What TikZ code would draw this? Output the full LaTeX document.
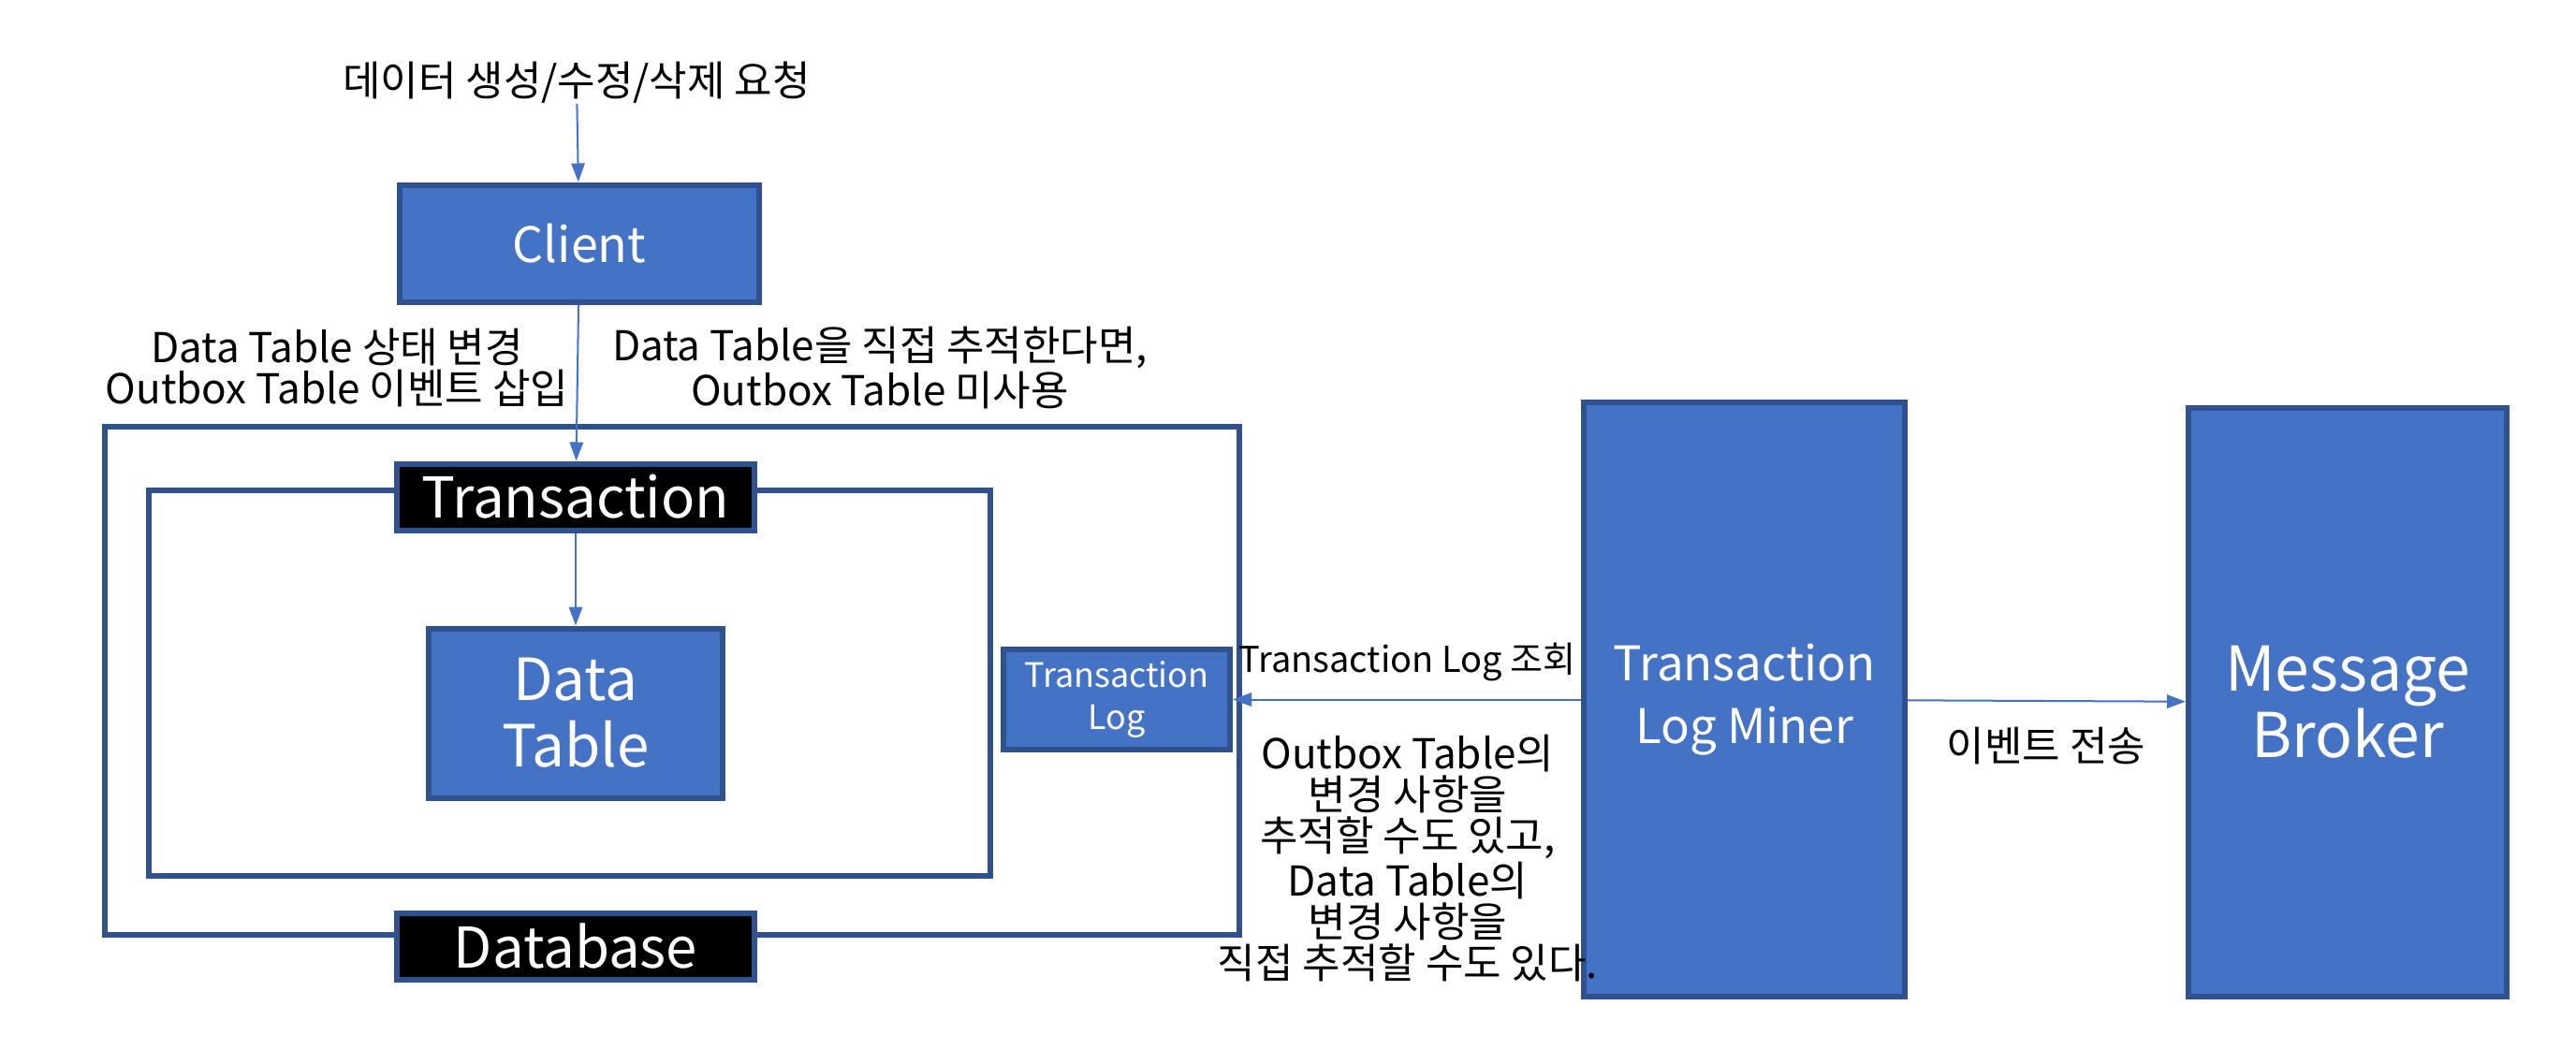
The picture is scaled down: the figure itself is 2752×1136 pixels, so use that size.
\documentclass[tikz,border=0pt]{standalone}
\usepackage{fontspec}
\setmainfont{Noto Sans CJK KR}
\usetikzlibrary{arrows.meta}
\definecolor{boxblue}{HTML}{4472C4}
\definecolor{edgeblue}{HTML}{2F528F}

\begin{document}
\begin{tikzpicture}[x=0.25pt, y=-0.25pt,
  blk/.style={draw=edgeblue, line width=1.5pt, fill=boxblue, text=white, align=center, inner sep=0pt},
  tag/.style={draw=edgeblue, line width=1.5pt, fill=black, text=white, inner sep=0pt,
    minimum width=95.5pt, minimum height=17.75pt, font=\fontsize{15}{15}\selectfont},
  frame/.style={draw=edgeblue, line width=1.4pt},
  flow/.style={draw=boxblue, line width=0.5pt, -{Triangle[length=5pt,width=3.6pt]}},
  lbl/.style={align=center, inner sep=0pt, font=\fontsize{11}{11}\selectfont}]
  \useasboundingbox (0,0) rectangle (2752,1136);
  % database and transaction frames
  \draw[frame] (112,456) rectangle (1324,999);
  \draw[frame] (159,524) rectangle (1058,936);
  \node[tag] (trans) at (615,531) {Transaction};
  \node[tag] (db) at (615,1011) {Database};
  % boxes
  \node[lbl] (req) at (616,88) {데이터 생성/수정/삭제 요청};
  \node[blk, minimum width=96pt, minimum height=31.25pt, font=\fontsize{13}{13}\selectfont]
    (client) at (619,260) {Client};
  \node[blk, minimum width=78.5pt, minimum height=45.25pt, font=\fontsize{15.5}{17.75}\selectfont]
    (data) at (615,762) {Data\\Table};
  \node[blk, minimum width=60.5pt, minimum height=26.75pt, font=\fontsize{9}{11.25}\selectfont]
    (txlog) at (1193,747.5) {Transaction\\Log};
  \node[blk, minimum width=85.75pt, minimum height=158.75pt, font=\fontsize{12.75}{16.75}\selectfont]
    (miner) at (1863.5,747.5) {Transaction\\Log Miner};
  \node[blk, minimum width=85pt, minimum height=157.25pt, font=\fontsize{16.5}{17.75}\selectfont]
    (broker) at (2508,750.5) {Message\\Broker};
  % arrows
  \draw[flow] (req) -- (client);
  \draw[flow] (client) -- (trans);
  \draw[flow] (trans) -- (data);
  \draw[flow] (miner) -- (txlog);
  \draw[flow] (miner) -- (broker);
  % labels
  \node[lbl] (upd) at (360,393) {Data Table 상태 변경\\Outbox Table 이벤트 삽입};
  \node[lbl] (direct) at (940,393) {Data Table을 직접 추적한다면,\\Outbox Table 미사용};
  \node[lbl, font=\fontsize{9.5}{11}\selectfont, anchor=east] (read) at (1684,708) {Transaction Log 조회};
  \node[lbl] (note) at (1504,917) {Outbox Table의\\변경 사항을\\추적할 수도 있고,\\Data Table의\\변경 사항을\\직접 추적할 수도 있다.};
  \node[lbl] (send) at (2186,797) {이벤트 전송};
\end{tikzpicture}
\end{document}
